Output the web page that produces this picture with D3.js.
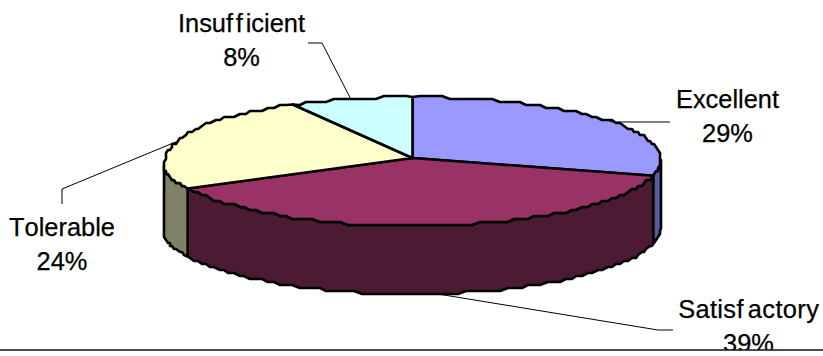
<!DOCTYPE html>
<html>
<head>
<meta charset="utf-8">
<script src="https://cdnjs.cloudflare.com/ajax/libs/d3/7.9.0/d3.min.js"></script>
<style>
html,body{margin:0;padding:0;background:#fff;}
svg{display:block;}
text{font-family:"Liberation Sans",Arial,sans-serif;font-size:25.4px;font-kerning:none;fill:#000;stroke:#000;stroke-width:0.25px;text-anchor:middle;}
</style>
</head>
<body>
<svg id="chart" width="823" height="356"></svg>
<script>
// Shares of ratings, clockwise from twelve o'clock
const categories = ["Excellent", "Satisfactory", "Tolerable", "Insufficient"];
const shares = [29, 39, 24, 8];
const topColors = ["#9999FF", "#993366", "#FFFFCC", "#CCFFFF"];
const sideColors = ["#555C99", "#4D1A33", "#808066", "#667F7F"];

// Label placement: text centre, first baseline, the elbows of the leader line,
// the extra gap after each letter f, and overall tracking
const labelX = [727.5, 748.5, 62, 241.5];
const labelY = [108, 317.5, 236, 32];
const fGap = [0, 4, 0, 2.8];
const tracking = [0, 0.36, 0, 0];
const leaders = [
  [[670, 122], [612, 122]],
  [[673, 330], [658, 330]],
  [[62, 204], [62, 189]],
  [[308, 43], [322, 43]]
];

const W = 823, H = 356;
const cx = 412.5, cy = 158, rx = 248.5;
const ryBack = 61, ryFront = 68, depth = 68;
const sagLeft = 8, sagRight = 2;
const ruleY = 350;

const svg = d3.select("#chart");
const arcs = d3.pie().sort(null).value(d => d)(shares);

// Pie angles start at twelve o'clock. The front half of the disc is deeper than the
// back half, and the rim sags a little at its sides, more so on the left.
const project = (a, drop = 0) => {
  const s = -Math.cos(a), c = Math.sin(a);
  const sag = (c < 0 ? sagLeft : sagRight) * Math.pow(1 - Math.abs(s), 3);
  return [cx + rx * c, cy + s * (s > 0 ? ryFront : ryBack) + sag + drop];
};
// Coarse plotting grid that gives the rim its stepped outline
const snap = ([x, y]) => [Math.round(x / 2) * 2, Math.round(y / 3) * 3];
const rim = (a0, a1, drop = 0) => {
  const n = Math.max(2, Math.ceil(Math.abs(a1 - a0) / 0.03));
  return d3.range(n + 1).map(i => {
    const a = a0 + (a1 - a0) * i / n;
    return i === 0 || i === n ? project(a, drop) : snap(project(a, drop));
  });
};
const line = d3.line().curve(d3.curveLinear);

// Side wall: only the part of each slice facing the viewer (between 90° and 270°)
const halfPi = Math.PI / 2;
const g = svg.append("g").attr("stroke", "#000").attr("stroke-width", 2.6).attr("stroke-linejoin", "round");
arcs.forEach((d, i) => {
  const a0 = Math.max(d.startAngle, halfPi);
  const a1 = Math.min(d.endAngle, 3 * halfPi);
  if (a1 <= a0) return;
  const pts = rim(a0, a1).concat(rim(a1, a0, depth));
  g.append("path").attr("d", line(pts) + "Z").attr("fill", sideColors[i]);
});

// Top face
arcs.forEach((d, i) => {
  const pts = [[cx, cy]].concat(rim(d.startAngle, d.endAngle));
  g.append("path").attr("d", line(pts) + "Z").attr("fill", topColors[i]);
});

// Leader lines run from the middle of each slice's rim to its label;
// a slice facing the viewer at its middle is reached at the bottom of its wall
const leaderG = svg.append("g").attr("fill", "none").attr("stroke", "#000").attr("stroke-width", 1);
arcs.forEach((d, i) => {
  const mid = (d.startAngle + d.endAngle) / 2;
  const facing = mid > halfPi && mid < 3 * halfPi;
  leaderG.append("path").attr("d", line(leaders[i].concat([project(mid, facing ? depth : 0)])));
});

// Labels: name on the first line, share on the second
arcs.forEach((d, i) => {
  const name = categories[i];
  const dx = Array.from(name, (ch, k) => (k === 0 ? 0 : tracking[i] + (name[k - 1] === "f" ? fGap[i] : 0))).join(" ");
  svg.append("text").attr("x", labelX[i]).attr("y", labelY[i]).attr("dx", dx).text(name);
  svg.append("text").attr("x", labelX[i]).attr("y", labelY[i] + 34).text(d3.format("d")(shares[i]) + "%");
});

// Rule along the bottom, masking whatever runs below it
svg.append("rect").attr("x", 0).attr("y", ruleY).attr("width", W).attr("height", H - ruleY).attr("fill", "#fff");
svg.append("line").attr("x1", 0).attr("x2", W).attr("y1", ruleY).attr("y2", ruleY).attr("stroke", "#111").attr("stroke-width", 1.5);
</script>
</body>
</html>
